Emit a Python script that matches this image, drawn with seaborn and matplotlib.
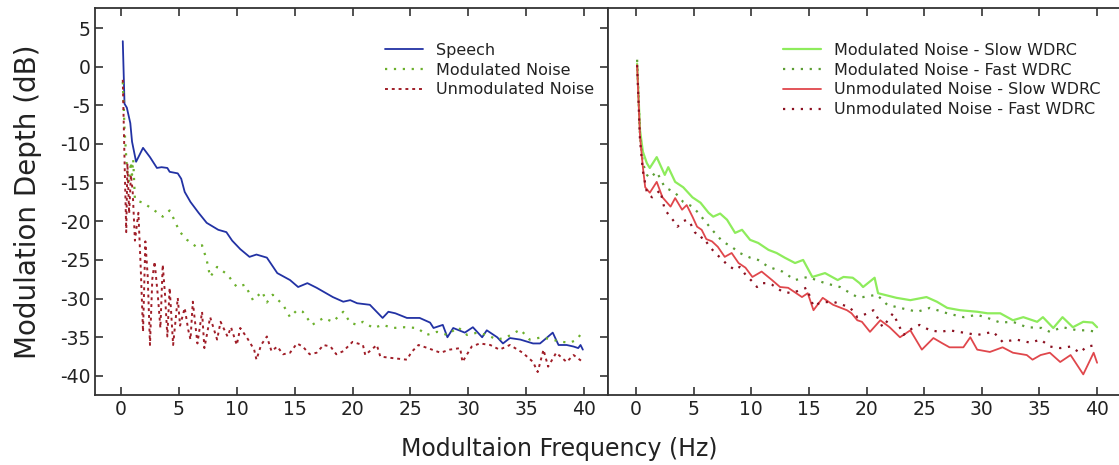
import numpy as np
import pandas as pd
import matplotlib
matplotlib.use("Agg")
import matplotlib.pyplot as plt
import seaborn as sns

# ---- left panel: unprocessed signals ----
speech_f = [0.15, 0.3, 0.5, 0.8, 0.95, 1.3, 1.9, 2.5, 3.1, 3.5, 4.0, 4.2, 4.9, 5.2, 5.5, 6.0,
            6.7, 7.4, 8.4, 9.1, 9.6, 10.3, 11.1, 11.7, 12.6, 13.5, 14.6, 15.3, 16.1, 16.9,
            17.6, 18.3, 19.2, 19.8, 20.4, 21.5, 22.6, 23.1, 23.7, 24.7, 25.8, 26.7, 27.0,
            27.8, 28.2, 28.7, 29.7, 30.4, 31.2, 31.6, 32.5, 33.0, 33.6, 34.5, 35.6, 36.2,
            36.6, 37.3, 37.8, 38.5, 39.1, 39.5, 39.7, 39.9]
speech_db = [3.3, -4.8, -5.3, -7.3, -9.7, -12.3, -10.5, -11.7, -13.1, -13.0, -13.1, -13.6,
             -13.8, -14.5, -16.2, -17.5, -18.9, -20.2, -21.1, -21.4, -22.5, -23.6, -24.6,
             -24.3, -24.7, -26.7, -27.6, -28.5, -28.0, -28.6, -29.2, -29.8, -30.4, -30.2,
             -30.6, -30.8, -32.5, -31.7, -31.9, -32.5, -32.5, -33.1, -33.8, -33.4, -35.0,
             -33.8, -34.4, -33.7, -35.0, -34.1, -35.0, -35.8, -35.1, -35.3, -35.8, -35.8,
             -35.3, -34.4, -36.0, -36.0, -36.2, -36.4, -36.0, -36.6]

modnoise_f = [0.15, 0.3, 0.5, 0.7, 0.85, 0.95, 1.05, 1.2, 1.5, 1.9, 2.3, 2.8, 3.6, 4.2, 4.5,
              4.7, 5.1, 5.7, 6.6, 7.0, 7.4, 7.7, 8.3, 9.2, 10.0, 10.7, 11.4, 12.2, 12.6,
              13.1, 14.0, 14.6, 15.2, 15.7, 16.5, 17.5, 18.3, 19.2, 19.8, 20.4, 20.9, 21.8,
              22.6, 23.5, 24.5, 25.6, 26.4, 27.3, 28.2, 29.1, 29.9, 30.8, 31.6, 32.5, 33.3,
              34.5, 35.3, 36.4, 37.2, 38.1, 38.8, 39.4, 39.8]
modnoise_db = [-2.0, -8.0, -13.0, -15.0, -12.3, -14.0, -12.0, -17.2, -17.4, -17.6, -18.0,
               -18.5, -19.4, -18.6, -19.5, -20.2, -21.4, -22.4, -23.4, -23.1, -25.0, -27.2,
               -25.9, -26.9, -28.5, -28.2, -30.2, -29.1, -30.5, -29.5, -30.8, -32.4, -31.5,
               -31.7, -33.4, -32.5, -33.0, -31.7, -33.1, -33.4, -33.0, -33.8, -33.4, -33.8,
               -33.7, -33.8, -34.7, -34.3, -34.7, -33.7, -34.7, -34.4, -34.7, -35.3, -35.0,
               -34.0, -35.3, -35.0, -35.3, -35.6, -35.7, -35.3, -34.4]

unmod_f = [0.15, 0.3, 0.45, 0.55, 0.7, 0.85, 1.0, 1.2, 1.5, 1.7, 1.9, 2.1, 2.3, 2.5, 2.7,
           2.9, 3.2, 3.4, 3.6, 3.8, 4.0, 4.2, 4.5, 4.9, 5.1, 5.5, 5.8, 6.0, 6.2, 6.6, 7.0,
           7.2, 7.7, 8.3, 8.6, 9.2, 9.5, 10.0, 10.3, 10.9, 11.5, 11.7, 12.1, 12.6, 13.0,
           13.5, 14.0, 14.6, 15.2, 15.7, 16.3, 16.9, 17.5, 18.1, 18.6, 19.2, 20.0, 20.9,
           21.1, 22.1, 22.4, 23.5, 24.7, 25.1, 25.7, 26.5, 27.6, 28.4, 29.3, 29.5, 30.3,
           31.0, 31.9, 32.7, 33.6, 34.7, 35.6, 36.0, 36.5, 36.9, 37.6, 38.5, 39.1, 39.9]
unmod_db = [-1.7, -12.0, -21.4, -12.5, -19.0, -14.0, -16.0, -22.5, -18.9, -26.0, -34.3,
            -22.6, -27.0, -36.0, -27.5, -25.2, -30.0, -33.8, -25.6, -29.5, -34.9, -28.6,
            -36.0, -29.9, -33.5, -31.2, -34.0, -35.3, -30.4, -35.8, -31.7, -36.4, -32.4,
            -35.3, -33.0, -34.9, -33.7, -36.0, -33.8, -35.1, -36.6, -37.9, -36.0, -34.9,
            -36.8, -36.2, -37.2, -37.0, -35.8, -36.2, -37.2, -37.0, -36.0, -36.2, -37.2,
            -36.8, -35.6, -36.0, -37.3, -36.0, -37.5, -37.7, -37.9, -36.9, -36.0, -36.4,
            -37.0, -36.6, -36.4, -38.2, -36.2, -35.8, -36.0, -36.6, -36.0, -37.0, -38.2,
            -39.5, -36.6, -38.8, -37.0, -38.2, -37.3, -38.2]

# ---- right panel: after WDRC ----
mod_slow_f = [0.1, 0.35, 0.6, 0.95, 1.2, 1.8, 2.5, 2.8, 3.4, 4.1, 4.9, 5.6, 6.3, 6.7, 7.3,
              7.9, 8.6, 9.2, 9.9, 10.6, 11.5, 12.2, 12.9, 13.8, 14.5, 15.3, 16.4, 17.5,
              18.0, 18.8, 19.4, 19.7, 20.7, 21.0, 22.6, 23.8, 25.2, 26.1, 27.0, 28.1, 29.6,
              30.5, 31.6, 32.7, 33.6, 34.8, 35.3, 36.2, 37.0, 37.9, 38.8, 39.6, 40.0]
mod_slow_db = [0.4, -8.2, -11.0, -12.5, -13.1, -11.7, -14.0, -13.0, -14.9, -15.6, -16.9,
               -17.6, -18.9, -19.4, -19.0, -19.8, -21.5, -21.1, -22.4, -22.8, -23.7, -24.1,
               -24.7, -25.4, -25.0, -27.2, -26.7, -27.6, -27.2, -27.3, -28.0, -28.5, -27.3,
               -29.3, -29.9, -30.2, -29.8, -30.4, -31.2, -31.5, -31.7, -31.9, -31.9, -32.8,
               -32.4, -33.0, -32.4, -33.8, -32.4, -33.7, -33.0, -33.1, -33.7]

mod_fast_f = [0.1, 0.35, 0.6, 0.95, 1.2, 1.8, 2.5, 3.4, 4.1, 4.9, 5.4, 6.0, 6.6, 7.5, 8.3,
              9.0, 9.9, 10.6, 11.5, 12.7, 13.8, 14.9, 16.4, 17.7, 18.6, 19.2, 19.7, 20.9,
              21.8, 22.9, 24.4, 25.5, 27.0, 28.4, 29.6, 30.5, 31.6, 32.7, 33.9, 35.2, 35.9,
              37.0, 38.3, 39.1, 40.0]
mod_fast_db = [0.9, -9.0, -12.5, -14.0, -14.4, -13.6, -15.6, -16.3, -17.5, -18.1, -18.9,
               -20.0, -21.1, -22.6, -23.3, -24.1, -24.7, -25.0, -25.9, -26.5, -27.6, -27.2,
               -28.0, -28.5, -29.3, -29.8, -29.8, -29.5, -30.8, -31.2, -31.7, -31.2, -31.9,
               -32.4, -32.1, -32.5, -33.1, -33.0, -33.7, -33.8, -34.3, -33.7, -34.1, -34.1,
               -34.3]

unmod_slow_f = [0.1, 0.35, 0.6, 0.8, 1.2, 1.8, 2.3, 3.0, 3.4, 4.0, 4.4, 4.9, 5.3, 5.7, 6.1,
                6.6, 7.1, 7.7, 8.3, 8.9, 9.5, 10.1, 10.9, 11.8, 12.5, 13.2, 13.6, 14.4, 14.9,
                15.4, 16.2, 17.1, 18.3, 18.7, 19.2, 19.6, 20.3, 21.2, 22.0, 22.9, 23.8, 24.8,
                25.8, 26.6, 27.2, 28.4, 29.0, 29.6, 30.7, 31.8, 32.7, 33.9, 34.4, 35.1, 35.9,
                36.8, 37.7, 38.8, 39.7, 40.0]
unmod_slow_db = [0.2, -9.0, -13.0, -15.6, -16.3, -14.9, -16.9, -18.1, -17.0, -18.5, -17.9,
                 -19.4, -20.7, -21.1, -22.3, -22.6, -23.3, -24.6, -24.1, -25.4, -26.0, -27.2,
                 -26.5, -27.6, -28.5, -28.6, -29.0, -29.8, -29.3, -31.5, -29.9, -30.8, -31.5,
                 -31.9, -32.8, -33.0, -34.3, -32.8, -33.7, -35.0, -34.1, -36.6, -35.1, -35.8,
                 -36.3, -36.3, -35.0, -36.6, -36.9, -36.3, -37.0, -37.3, -37.9, -37.3, -37.0,
                 -38.2, -37.3, -39.8, -37.0, -38.3]

unmod_fast_f = [0.1, 0.35, 0.6, 0.95, 1.4, 2.1, 2.5, 3.4, 3.6, 4.1, 4.4, 4.7, 5.1, 5.6, 5.8,
                6.4, 7.0, 7.4, 7.9, 8.6, 9.0, 9.5, 10.1, 10.5, 10.9, 11.4, 11.8, 12.5, 12.7,
                13.5, 14.8, 15.4, 16.0, 17.1, 18.3, 18.6, 19.2, 20.1, 20.6, 21.4, 22.3, 23.2,
                24.0, 24.6, 25.5, 26.4, 27.2, 28.4, 29.6, 31.0, 31.8, 33.0, 34.2, 35.1, 35.9,
                36.8, 37.7, 38.5, 39.1, 40.0]
unmod_fast_db = [0.2, -9.5, -13.5, -16.3, -16.9, -16.0, -18.5, -20.2, -20.7, -20.0, -19.8,
                 -20.2, -21.4, -22.2, -22.0, -23.3, -24.3, -24.8, -25.6, -26.3, -25.9, -26.9,
                 -27.8, -28.5, -28.0, -28.0, -28.2, -28.9, -29.1, -29.3, -28.6, -31.0, -30.5,
                 -30.4, -31.0, -31.2, -32.4, -31.9, -31.5, -33.7, -31.9, -34.7, -33.8, -33.4,
                 -34.1, -34.3, -34.1, -34.4, -34.7, -34.3, -35.6, -35.3, -35.7, -35.3, -36.2,
                 -36.4, -36.2, -37.0, -36.2, -36.0]

xticks = [0, 5, 10, 15, 20, 25, 30, 35, 40]
yticks = [5, 0, -5, -10, -15, -20, -25, -30, -35, -40]

sns.set_style("ticks")
plt.rcParams['font.family'] = ['DejaVu Sans']
plt.rcParams['axes.unicode_minus'] = False

fig = plt.figure(figsize=(11.19, 4.65), dpi=100)
ax1 = fig.add_axes([0.0849, 0.1505, 0.4584, 0.8323])
ax2 = fig.add_axes([0.5433, 0.1505, 0.4567, 0.8323])

sns.lineplot(x=speech_f, y=speech_db, ax=ax1, color='#2232a4', lw=1.3, label='Speech')
sns.lineplot(x=modnoise_f, y=modnoise_db, ax=ax1, color='#6cb02c', lw=1.6,
             linestyle=(0, (1, 3)), label='Modulated Noise')
sns.lineplot(x=unmod_f, y=unmod_db, ax=ax1, color='#a01e28', lw=1.4,
             linestyle=(0, (1.5, 2)), label='Unmodulated Noise')

sns.lineplot(x=mod_slow_f, y=mod_slow_db, ax=ax2, color='#8eec5c', lw=1.6,
             label='Modulated Noise - Slow WDRC')
sns.lineplot(x=mod_fast_f, y=mod_fast_db, ax=ax2, color='#5c9e34', lw=1.6,
             linestyle=(0, (1, 3)), label='Modulated Noise - Fast WDRC')
sns.lineplot(x=unmod_slow_f, y=unmod_slow_db, ax=ax2, color='#e0474c', lw=1.3,
             label='Unmodulated Noise - Slow WDRC')
sns.lineplot(x=unmod_fast_f, y=unmod_fast_db, ax=ax2, color='#8b1020', lw=1.6,
             linestyle=(0, (1, 3)), label='Unmodulated Noise - Fast WDRC')

for ax in (ax1, ax2):
    ax.set_ylim(-42.47, 7.59)
    ax.set_xticks(xticks)
    ax.set_yticks(yticks)
    ax.set_xlabel('')
    ax.set_ylabel('')
    for s in ax.spines.values():
        s.set_color('#333333')
        s.set_linewidth(1.3)
    ax.tick_params(direction='in', length=6, width=1.2, color='#333333',
                   labelsize=13.5, labelcolor='#222222', top=True)

ax1.set_xlim(-2.25, 42.07)
ax1.tick_params(axis='y', right=True)
ax2.set_xlim(-2.43, 41.9)
ax2.tick_params(axis='y', left=False, right=False, labelleft=False)
ax2.spines['right'].set_visible(False)

leg_kw = dict(frameon=False, loc='upper left', fontsize=11.5, borderpad=0,
              borderaxespad=0, handlelength=2.4, handletextpad=0.8, labelspacing=0.3,
              labelcolor='#222222')
ax1.legend(bbox_to_anchor=(0.565, 0.91), **leg_kw)
ax2.legend(bbox_to_anchor=(0.342, 0.91), **leg_kw)

fig.text(0.5, 0.035, 'Modultaion Frequency (Hz)', ha='center', va='center',
         fontsize=17, color='#222222')
fig.text(0.025, 0.567, 'Modulation Depth (dB)', ha='center', va='center',
         rotation=90, fontsize=20, color='#222222')

fig.savefig('out.png', dpi=100)
